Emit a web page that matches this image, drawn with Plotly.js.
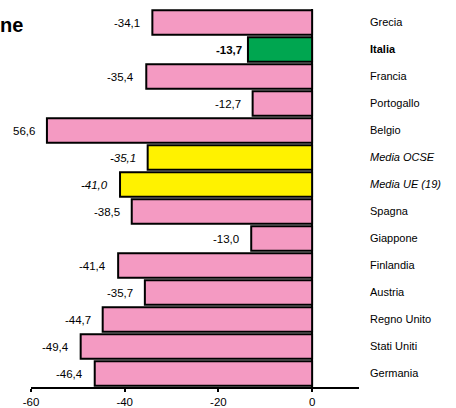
<!DOCTYPE html>
<html>
<head>
<meta charset="utf-8">
<script src="https://cdn.plot.ly/plotly-3.0.1.min.js"></script>
<style>
  html, body { margin: 0; padding: 0; background: #fff; }
  #chart { width: 456px; height: 408px; }
</style>
</head>
<body>
<div id="chart"></div>
<script>
// Countries, top to bottom
const countries = ["Grecia", "Italia", "Francia", "Portogallo", "Belgio", "Media OCSE",
  "Media UE (19)", "Spagna", "Giappone", "Finlandia", "Austria", "Regno Unito",
  "Stati Uniti", "Germania"];
const values = [-34.1, -13.7, -35.4, -12.7, -56.6, -35.1, -41.0, -38.5, -13.0, -41.4,
  -35.7, -44.7, -49.4, -46.4];
const valueLabels = ["-34,1", "-13,7", "-35,4", "-12,7", "56,6", "-35,1", "-41,0", "-38,5",
  "-13,0", "-41,4", "-35,7", "-44,7", "-49,4", "-46,4"];
const xTicks = [-60, -40, -20, 0];

const PINK = "#F49AC2", GREEN = "#00A650", YELLOW = "#FFF200";
const isAvg = c => c.startsWith("Media");
const colors = countries.map(c => c === "Italia" ? GREEN : (isAvg(c) ? YELLOW : PINK));

// bold for Italy, italic for the averages
const styleFor = (c, s) => c === "Italia" ? "<b>" + s + "</b>" : (isAvg(c) ? "<i>" + s + "</i>" : s);
const cats = countries.map(c => styleFor(c, c));

const font = "Liberation Sans, Arial, sans-serif";

const trace = {
  type: "bar",
  orientation: "h",
  x: values,
  y: cats,
  marker: { color: colors, line: { color: "#000", width: 2 } },
  hoverinfo: "none"
};

const annotations = countries.map((c, i) => ({
  xref: "x", yref: "y",
  x: values[i], y: cats[i],
  text: styleFor(c, valueLabels[i]),
  showarrow: false,
  xanchor: "right",
  xshift: c === "Italia" ? -4 : -10,
  font: { family: font, size: 11.5, color: "#000" }
}));

annotations.push({
  xref: "paper", yref: "paper",
  x: -0.1, y: 1.0,
  xanchor: "left", yanchor: "top",
  yshift: -3,
  text: "<b>ne</b>",
  showarrow: false,
  font: { family: font, size: 20, color: "#000" }
});

const layout = {
  width: 456, height: 408,
  margin: { l: 31, r: 97, t: 9, b: 21 },
  paper_bgcolor: "#fff", plot_bgcolor: "#fff",
  showlegend: false,
  bargap: 0.1,
  xaxis: {
    range: [-60, 10],
    tickvals: xTicks,
    ticktext: xTicks.map(String),
    showgrid: false,
    zeroline: true, zerolinecolor: "#000", zerolinewidth: 2,
    showline: true, linecolor: "#000", linewidth: 2,
    ticks: "outside", ticklen: 3, tickwidth: 2, tickcolor: "#000",
    tickfont: { family: font, size: 11.5, color: "#000" },
    fixedrange: true
  },
  yaxis: {
    autorange: "reversed",
    side: "right",
    showgrid: false, zeroline: false, showline: false,
    ticks: "",
    ticklabelstandoff: 10,
    tickfont: { family: font, size: 11, color: "#000" },
    fixedrange: true
  },
  annotations: annotations
};

Plotly.newPlot("chart", [trace], layout, { displayModeBar: false, staticPlot: true });
</script>
</body>
</html>
